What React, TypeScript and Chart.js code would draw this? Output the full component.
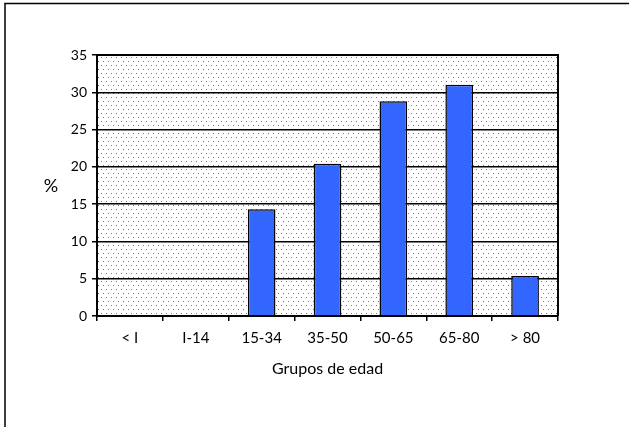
import React, { useEffect, useRef } from "react";
import { Chart, registerables } from "chart.js";

Chart.register(...registerables);

const categories = ["< I", "I-14", "15-34", "35-50", "50-65", "65-80", "> 80"];
const values = [0, 0, 14.3, 20.4, 28.8, 31.0, 5.35];
const yTicks = [0, 5, 10, 15, 20, 25, 30, 35];
const xTitle = "Grupos de edad";
const yTitle = "%";

const FONT = "Lato, 'Open Sans', sans-serif";

function makePattern(ctx: CanvasRenderingContext2D) {
  const tile = document.createElement("canvas");
  tile.width = 10;
  tile.height = 8;
  const t = tile.getContext("2d")!;
  t.fillStyle = "#ffffff";
  t.fillRect(0, 0, 10, 8);
  t.fillStyle = "#7a7a7a";
  t.fillRect(1, 1, 1, 1);
  t.fillRect(6, 1, 1, 1);
  t.fillRect(3, 5, 1, 1);
  t.fillRect(8, 5, 1, 1);
  return ctx.createPattern(tile, "repeat");
}

const framePlugin = {
  id: "frame",
  beforeDraw(chart: any) {
    const { ctx, chartArea } = chart;
    ctx.save();
    ctx.fillStyle = "#ffffff";
    ctx.fillRect(0, 0, chart.width, chart.height);
    const pat = makePattern(ctx);
    if (pat) {
      ctx.fillStyle = pat;
      ctx.fillRect(chartArea.left, chartArea.top, chartArea.right - chartArea.left, chartArea.bottom - chartArea.top);
    }
    ctx.strokeStyle = "#000";
    ctx.lineWidth = 1.5;
    ctx.beginPath();
    ctx.moveTo(5, chart.height);
    ctx.lineTo(5, 3.5);
    ctx.lineTo(chart.width, 3.5);
    ctx.stroke();
    ctx.restore();
  },
  afterDraw(chart: any) {
    const { ctx, chartArea } = chart;
    ctx.save();
    ctx.strokeStyle = "#000";
    ctx.lineWidth = 2;
    ctx.beginPath();
    ctx.moveTo(chartArea.left, chartArea.top);
    ctx.lineTo(chartArea.right, chartArea.top);
    ctx.lineTo(chartArea.right, chartArea.bottom);
    ctx.stroke();
    ctx.fillStyle = "#000";
    ctx.font = "18px " + FONT;
    ctx.textAlign = "center";
    ctx.textBaseline = "middle";
    ctx.fillText(yTitle, 51, 186);
    ctx.restore();
  },
};

export default function App() {
  const ref = useRef<HTMLCanvasElement>(null);
  useEffect(() => {
    const chart = new Chart(ref.current!, {
      type: "bar",
      data: {
        labels: categories,
        datasets: [
          {
            data: values,
            backgroundColor: "#3366FF",
            borderColor: "#000000",
            borderWidth: 1.5,
            barPercentage: 0.42,
            categoryPercentage: 1,
          },
        ],
      },
      options: {
        responsive: false,
        animation: false,
        layout: { padding: { left: 0, top: 55, right: 71, bottom: 49 } },
        plugins: { legend: { display: false }, tooltip: { enabled: false } },
        scales: {
          x: {
            grid: { drawOnChartArea: false, drawTicks: true, tickLength: 5, color: "#000", lineWidth: 1.5 },
            border: { color: "#000", width: 2 },
            ticks: { color: "#000", font: { family: FONT, size: 15 }, padding: 8, maxRotation: 0 },
            title: { display: true, text: xTitle, color: "#000", font: { family: FONT, size: 16 }, padding: { top: 0, bottom: 0 } },
            afterFit(scale: any) {
              scale.height = 62;
            },
          },
          y: {
            min: 0,
            max: 35,
            afterBuildTicks(scale: any) {
              scale.ticks = yTicks.map((v) => ({ value: v }));
            },
            grid: { color: "#000", lineWidth: 1.5, tickLength: 5 },
            border: { color: "#000", width: 2 },
            ticks: { color: "#000", font: { family: FONT, size: 14 }, padding: 5 },
            afterFit(scale: any) {
              scale.width = 97;
            },
          },
        },
      },
      plugins: [framePlugin],
    });
    return () => chart.destroy();
  }, []);
  return (
    <div style={{ position: "absolute", left: 0, top: 0, width: 629, height: 427, background: "#fff" }}>
      <canvas ref={ref} width={629} height={427} style={{ display: "block" }} />
    </div>
  );
}
